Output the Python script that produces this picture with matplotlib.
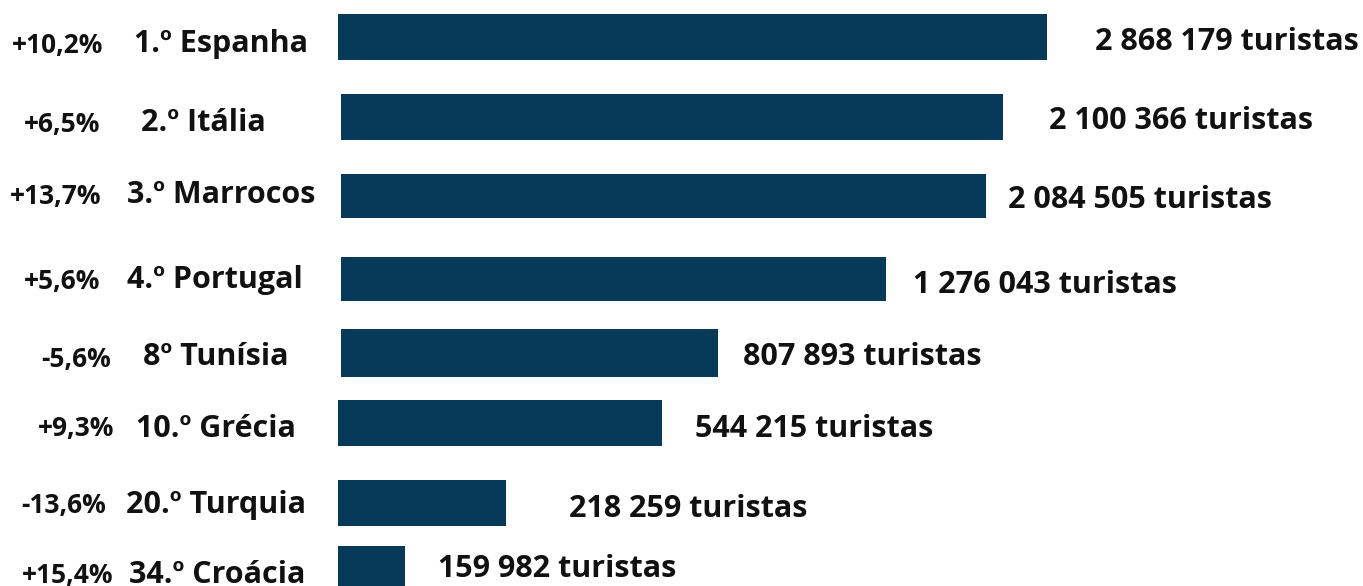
import matplotlib.pyplot as plt

# data
countries = ["1.º Espanha", "2.º Itália", "3.º Marrocos", "4.º Portugal",
             "8º Tunísia", "10.º Grécia", "20.º Turquia", "34.º Croácia"]
variation = ["+10,2%", "+6,5%", "+13,7%", "+5,6%", "-5,6%", "+9,3%", "-13,6%", "+15,4%"]
tourists = ["2 868 179", "2 100 366", "2 084 505", "1 276 043",
            "807 893", "544 215", "218 259", "159 982"]
# bar lengths as drawn (not proportional to the tourist numbers)
bar_len = [709, 662, 645, 545, 377, 324, 168, 67]

# layout (figure pixels)
bar_left = [338, 341, 341, 341, 341, 338, 338, 338]
bar_y = [37, 117, 196, 279, 353, 423, 503, 569]
bar_h = [46, 46, 44, 44, 48, 46, 46, 46]
pct_x = [58, 62, 56, 62, 76, 76, 64, 68]
pct_base = [53, 132, 204, 289, 367, 436, 513, 583]
name_x = [221, 203, 221, 215, 216, 216, 216, 217]
name_base = [52, 131, 203, 288, 365, 437, 513, 583]
val_x = [1227, 1181, 1140, 1045, 862, 814, 688, 557]
val_base = [50, 129, 208, 293, 365, 437, 517, 577]

plt.rcParams['font.family'] = ['Open Sans', 'DejaVu Sans']

fig = plt.figure(figsize=(13.63, 5.86), dpi=100)
ax = fig.add_axes([0, 0, 1, 1])
ax.set_xlim(0, 1363)
ax.set_ylim(586, 0)
ax.axis("off")

ax.barh(bar_y, bar_len, left=bar_left, height=bar_h, color="#063a58")

for i in range(len(countries)):
    ax.text(pct_x[i], pct_base[i], variation[i], ha="center", va="baseline",
            fontsize=19, fontweight="bold", color="#111111")
    ax.text(name_x[i], name_base[i], countries[i], ha="center", va="baseline",
            fontsize=22, fontweight="bold", color="#111111")
    ax.text(val_x[i], val_base[i], tourists[i] + " turistas", ha="center", va="baseline",
            fontsize=22, fontweight="bold", color="#111111")

fig.savefig("out.png", dpi=100)
